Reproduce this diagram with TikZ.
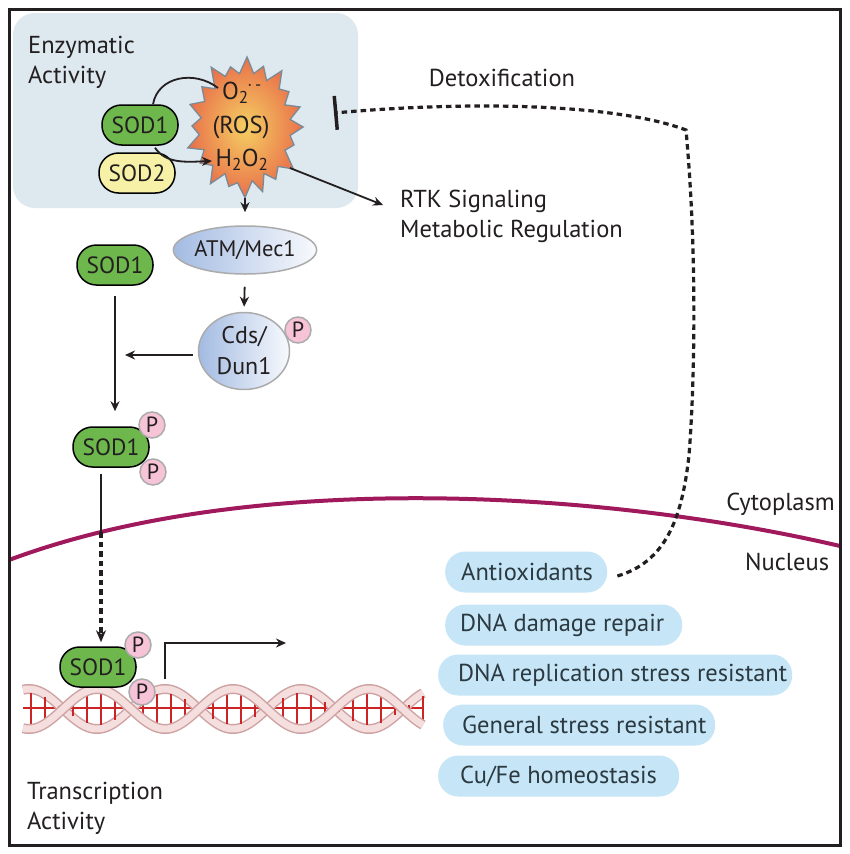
\documentclass[tikz,border=0pt]{standalone}
\usepackage{fontspec}
\setmainfont{PT Sans}
\usetikzlibrary{arrows.meta,shapes.geometric}
\definecolor{boxblue}{HTML}{DDE8EF}
\definecolor{sodgreen}{HTML}{6DB74C}
\definecolor{sodyellow}{HTML}{F6F1A7}
\definecolor{ppink}{HTML}{F6C3D7}
\definecolor{pedge}{HTML}{ABABAB}
\definecolor{pillblue}{HTML}{C6E6F7}
\definecolor{memcol}{HTML}{A0195C}
\definecolor{framecol}{HTML}{231F20}
\definecolor{pilltext}{HTML}{2B3940}
\definecolor{atmblue}{HTML}{A3BBE2}
\definecolor{rosin}{HTML}{F5CF62}
\definecolor{rosout}{HTML}{E9704A}
\definecolor{rosedge}{HTML}{7A8A96}
\definecolor{strandout}{HTML}{CFA3A3}
\definecolor{strandin}{HTML}{F5DEDE}
\definecolor{rungred}{HTML}{CC2424}
\def\starlist{0/1.02/0.80, 17/0.90/0.78, 36/1.05/0.82, 55/0.94/0.76, 72/1.00/0.80, 90/1.04/0.83, 108/0.92/0.77, 126/1.03/0.80, 146/0.95/0.79, 163/1.05/0.81, 181/0.93/0.78, 199/1.02/0.80, 218/0.96/0.77, 236/1.06/0.82, 254/0.92/0.79, 272/1.03/0.80, 290/0.95/0.78, 308/1.05/0.82, 326/0.93/0.77, 343/1.01/0.80}
\newcommand\pilltxt[2]{\makebox[#1][l]{#2}}
\begin{document}
\begin{tikzpicture}[x=1pt,y=-1pt,
  lbl/.style={font=\fontsize{24.5}{30}\selectfont, text=framecol, inner sep=0pt},
  sodpill/.style={rounded corners=19.5pt, minimum width=76pt, minimum height=40pt, draw=black, line width=1.5pt, fill=sodgreen, inner sep=0pt, font=\fontsize{23.5}{26}\selectfont, text=framecol},
  pcirc/.style={circle, minimum size=26pt, inner sep=0pt, fill=ppink, draw=pedge, line width=1.5pt, font=\fontsize{22}{24}\selectfont, text=framecol},
  pill/.style={rounded corners=20pt, minimum height=41pt, inner ysep=0pt, fill=pillblue, anchor=west, font=\fontsize{24.5}{26}\selectfont, text=pilltext},
  conn/.style={line width=1.8pt, draw=framecol},
  arr/.style={conn, -{Stealth[length=10pt,width=9pt]}},
  dotline/.style={line width=3.2pt, draw=framecol, dash pattern=on 5.5pt off 4pt},
  strand/.style={line width=10pt, draw=strandout},
  strandc/.style={line width=7pt, draw=strandin},
  rung/.style={line width=2.6pt, draw=rungred}
]
\useasboundingbox (0,0) rectangle (850,854);
\fill[white] (0,0) rectangle (850,854);
% enzymatic box
\fill[boxblue, rounded corners=22pt] (13,13) rectangle (358,208);
\node[lbl, anchor=north west, align=left] (enz) at (28,36) {Enzymatic\\Activity};
% ROS star
\shade[inner color=rosin, outer color=rosout, draw=rosedge, line width=1.3pt]
  ({245+57*1.02},127) \foreach \a/\ro/\ri in \starlist {
    -- ({245+57*\ro*cos(\a)},{127+68*\ro*sin(\a)})
    -- ({245+57*\ri*cos(\a+9)},{127+68*\ri*sin(\a+9)}) } -- cycle;
\node[minimum width=114pt, minimum height=136pt, inner sep=0pt] (ros) at (245,127) {};
\node[lbl] (o2) at (242,93) {O\textsubscript{2}\kern-1pt\textsuperscript{·\,-}};
\node[lbl] (rosl) at (241,127) {(ROS)};
\node[lbl] (h2o2) at (242,160) {H\textsubscript{2}O\textsubscript{2}};
% SOD1 / SOD2
\node[sodpill] (sodA) at (140,125) {SOD1};
\node[sodpill, fill=sodyellow] (sodB) at (137,173) {SOD2};
\coordinate (o2in) at (218,88);
\coordinate (h2in) at (212,161);
\draw[conn] ([xshift=13pt]sodA.north) .. controls (158,76) and (195,70) .. (o2in);
\draw[arr] ([xshift=15pt,yshift=-2pt]sodA.south) .. controls (166,164) and (186,162) .. (h2in);
% RTK
\coordinate (rosse) at (290,168);
\coordinate (rtkin) at (383,205);
\draw[arr] (rosse) -- (rtkin);
\node[lbl, anchor=north west, align=left] (rtk) at (400,190) {RTK Signaling\\Metabolic Regulation};
\node[lbl] (detox) at (502,78) {Detoxification};
% ATM and Cds
\node[ellipse, minimum width=122pt, minimum height=48pt, inner sep=0pt, left color=atmblue, right color=white!92!atmblue, draw=pedge, line width=1.5pt, font=\fontsize{22.5}{24}\selectfont, text=framecol] (atm) at (245,250) {ATM/Mec1};
\draw[arr, shorten <=3pt, shorten >=13pt] (ros.south) -- (atm.north);
\node[ellipse, minimum width=91pt, minimum height=77pt, inner sep=0pt, left color=atmblue, right color=white!92!atmblue, draw=pedge, line width=1.5pt, align=center, font=\fontsize{24}{31}\selectfont, text=framecol] (cds) at (244,351) {Cds/\\Dun1};
\node[pcirc] (pc) at (298,330) {P};
\draw[arr, shorten <=12pt, shorten >=5pt] (atm.south) -- (cds.north);
% SOD1 cascade
\node[sodpill] (sod1m) at (115,265) {SOD1};
\coordinate (hend) at (125,355);
\draw[arr] ([xshift=-5pt,yshift=-4pt]cds.west) -- (hend);
\node[sodpill] (sod1p) at (111,447) {SOD1};
\node[pcirc] (p1) at (152,425) {P};
\node[pcirc] (p2) at (153,472) {P};
\draw[arr, shorten <=10pt, shorten >=15pt] (sod1m.south) -- (sod1m.south |- sod1p.north);
% membrane
\coordinate (memL) at (9,560);
\coordinate (memR) at (840,546);
\draw[memcol, line width=4pt] (memL) .. controls (250,470) and (600,490) .. (memR);
\node[lbl, anchor=base east] (cyto) at (835,510) {Cytoplasm};
\node[lbl, anchor=base west] (nuc) at (745,570) {Nucleus};
% DNA helix
\draw[rungred, line width=1.5pt] (23,708) -- (423,708);
\draw[strand] plot[domain=23:423, samples=160] (\x, {709 + 20*cos((\x-97)/136*360)});
\draw[strandc] plot[domain=23:423, samples=160] (\x, {709 + 20*cos((\x-97)/136*360)});
\foreach \xx in {31,45,...,423} {
  \draw[rung] (\xx,{709-16*cos((\xx-97)/136*360)}) -- (\xx,{709+16*cos((\xx-97)/136*360)});
}
\draw[strand] plot[domain=23:423, samples=160] (\x, {709 - 20*cos((\x-97)/136*360)});
\draw[strandc] plot[domain=23:423, samples=160] (\x, {709 - 20*cos((\x-97)/136*360)});
% nuclear SOD1
\node[sodpill] (sod1n) at (98,667) {SOD1};
\node[pcirc] (p3) at (138,645) {P};
\node[pcirc] (p4) at (142,692) {P};
\coordinate (memcross) at (101,532);
\draw[conn] ([xshift=-10pt,yshift=-6pt]sod1p.south) -- (memcross);
\draw[dotline, -{Stealth[length=12pt,width=10pt]}, shorten >=4pt] (memcross) -- (memcross |- sod1n.north);
% transcription start
\coordinate (tss) at (165,679);
\coordinate (tsend) at (286,643);
\draw[arr] (tss) |- (tsend);
\node[lbl, anchor=north west, align=left] (trans) at (27,782) {Transcription\\Activity};
% target gene pills
\node[pill, minimum width=162pt, inner xsep=16pt] (anti) at (445,572) {\pilltxt{130pt}{Antioxidants}};
\node[pill, minimum width=237pt, inner xsep=15pt] (dna1) at (445,625) {\pilltxt{207pt}{DNA damage repair}};
\node[pill, minimum width=354pt, inner xsep=20pt] (dna2) at (438,675) {\pilltxt{314pt}{DNA replication stress resistant}};
\node[pill, minimum width=272pt, inner xsep=19pt] (gen) at (443,725) {\pilltxt{234pt}{General stress resistant}};
\node[pill, minimum width=241pt, inner xsep=22pt] (cufe) at (438,776) {\pilltxt{197pt}{Cu/Fe homeostasis}};
% detoxification feedback
\coordinate (inhbar) at (334,113);
\draw[dotline, -{Bar[width=34pt,line width=3.5pt]}] ([xshift=10pt,yshift=-4pt]anti.east) .. controls (665,562) and (682,520) .. (689,455) .. controls (695,380) and (697,250) .. (686,130) .. controls (620,105) and (480,100) .. (inhbar);
% frame
\draw[framecol, line width=3pt] (9,9) rectangle (840,845);
\end{tikzpicture}
\end{document}
